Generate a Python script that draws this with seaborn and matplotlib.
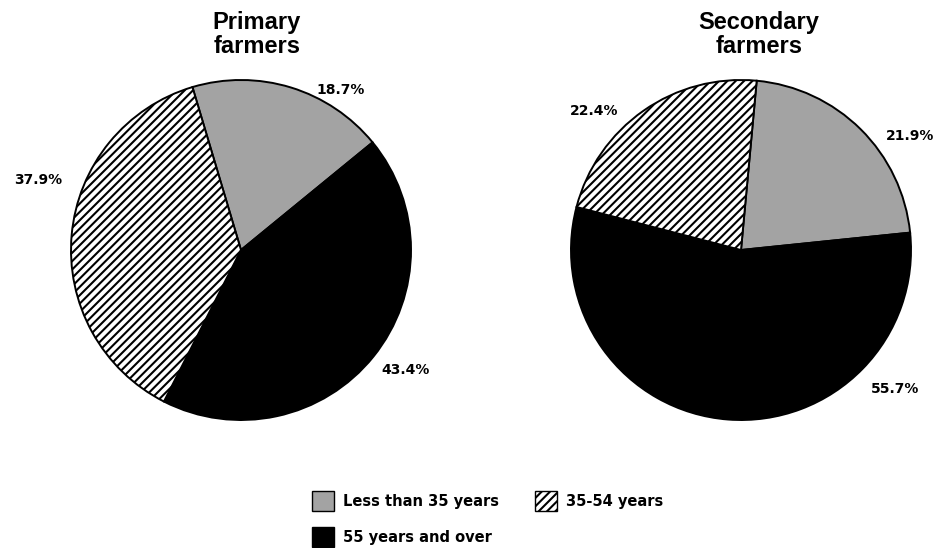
import numpy as np
import matplotlib
matplotlib.use('Agg')
import matplotlib.pyplot as plt
from matplotlib.patches import Patch
import seaborn as sns

# data
groups = ['Less than 35 years', '35-54 years', '55 years and over']
titles = ['Primary\nfarmers', 'Secondary\nfarmers']
primary = [18.7, 43.4, 37.9]      # gray, black, hatched (clockwise)
secondary = [21.9, 55.7, 22.4]
slice_groups = [0, 2, 1]          # index into groups for each slice

# styles / placement
start_angles = [106.6, 84.7]
label_angles = [[58, -36, 161], [34, -42, 136.6]]
label_dist = [[1.11, 1.20, 1.26], [1.20, 1.22, 1.19]]
fills = {0: '#a3a3a3', 1: 'white', 2: 'black'}
hatches = {0: None, 1: '////', 2: None}

sns.set_theme(style='white')
plt.rcParams['hatch.linewidth'] = 1.5
plt.rcParams['hatch.color'] = 'black'

fig = plt.figure(figsize=(9.36, 5.48), dpi=100)
W, H = 936, 548
R = 170          # pie radius, px
lim = 1.05
side = 2 * lim * R
centers = [(241, 250), (741, 250)]
title_x = [257, 759]

for i, vals in enumerate([primary, secondary]):
    cx, cy = centers[i]
    ax = fig.add_axes([(cx - side / 2) / W, (H - cy - side / 2) / H, side / W, side / H])
    wedges, _ = ax.pie(vals, startangle=start_angles[i], counterclock=False,
                       colors=[fills[g] for g in slice_groups],
                       wedgeprops=dict(edgecolor='black', linewidth=1.4))
    for w, g in zip(wedges, slice_groups):
        if hatches[g]:
            w.set_hatch(hatches[g])
    ax.set_xlim(-lim, lim)
    ax.set_ylim(-lim, lim)
    ax.set_aspect('equal')
    ax.axis('off')

    for v, a, d in zip(vals, label_angles[i], label_dist[i]):
        t = np.deg2rad(a)
        ax.text(d * np.cos(t), d * np.sin(t), f'{v:.1f}%', ha='center', va='center',
                fontsize=10, fontweight='bold', family='DejaVu Sans', color='black')

    fig.text(title_x[i] / W, 1 - 11 / H, titles[i], ha='center', va='top',
             fontsize=17, fontweight='bold', family='Liberation Sans',
             linespacing=1.05, color='black')

handles = [Patch(facecolor=fills[0], edgecolor='black', label=groups[0]),
           Patch(facecolor=fills[2], edgecolor='black', label=groups[2]),
           Patch(facecolor=fills[1], edgecolor='black', hatch='////', label=groups[1])]
fig.legend(handles=handles, ncol=2, loc='upper left',
           bbox_to_anchor=(312 / W, (H - 491) / H), frameon=False,
           prop=dict(family='DejaVu Sans', weight='bold', size=10.5),
           labelcolor='black',
           handlelength=1.5, handleheight=1.75, handletextpad=0.6,
           columnspacing=2.5, labelspacing=1.1, borderpad=0, borderaxespad=0)

fig.savefig('out.png', dpi=100, facecolor='white')
